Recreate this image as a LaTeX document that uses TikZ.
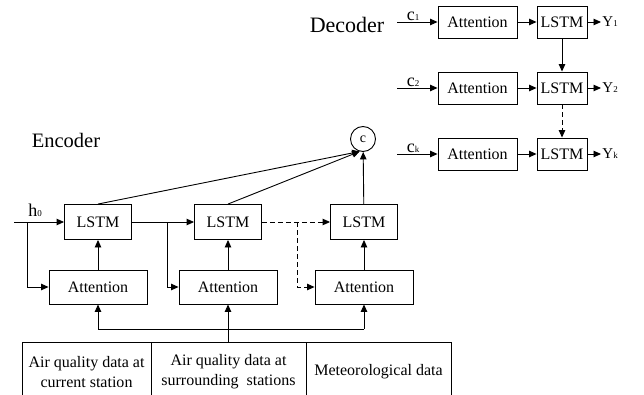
\documentclass[tikz,border=0pt]{standalone}
\usepackage{fontspec}
\setmainfont{Liberation Serif}
\usetikzlibrary{arrows.meta}
\newcommand\mylbl[3]{{\fontsize{#3}{#3}\selectfont #1}{\fontsize{9}{9}\selectfont #2}}
\begin{document}
\begin{tikzpicture}[x=1pt,y=-1pt,
  line width=0.9pt,
  box/.style={draw,inner sep=0pt,font=\fontsize{16}{19}\selectfont},
  lstmbox/.style={box,minimum width=67pt,minimum height=35pt},
  attbox/.style={box,minimum width=98pt,minimum height=34pt},
  dlstm/.style={box,minimum width=50pt,minimum height=32pt},
  datt/.style={box,minimum width=79pt,minimum height=32pt},
  databox/.style={draw,inner sep=0pt,minimum height=60pt,align=center,font=\fontsize{16}{20}\selectfont},
  lab/.style={inner sep=1pt},
  arr/.style={-{Triangle[length=7.5pt,width=6.5pt]}},
  dsh/.style={dash pattern=on 5pt off 3pt},
  ]
\useasboundingbox (0,0) rectangle (644,395);
\clip (0,0) rectangle (644,395);

% ---------- Encoder ----------
\node[font=\fontsize{20.5}{20.5}\selectfont] (enc) at (66,140) {Encoder};

\node[lstmbox] (L1) at (98,222) {LSTM};
\node[lstmbox] (L2) at (228,222) {LSTM};
\node[lstmbox] (L3) at (364,222) {LSTM};
\node[attbox] (A1) at (98,287) {Attention};
\node[attbox] (A2) at (228,287) {Attention};
\node[attbox] (A3) at (364,287) {Attention};
\node[draw,circle,minimum size=25pt,inner sep=0pt,font=\fontsize{14}{14}\selectfont] (c) at (363,139) {c};

\node[databox,minimum width=129pt] (D1) at (86.5,372) {Air quality data at\\current station};
\node[databox,minimum width=155pt] (D2) at (228.5,372) {Air quality data at\\surrounding\ \ stations};
\node[databox,minimum width=145pt] (D3) at (378.5,372) {Meteorological data};

% h0 input
\coordinate (h0s) at (14,222);
\coordinate (b1) at (27,222);
\node[lab] (h0) at (35,210) {\mylbl{h}{0}{18}};
\draw[arr] (h0s) -- (L1);
\draw[arr] (b1) |- (A1.west);

% LSTM chain
\coordinate (b2) at (167,222);
\coordinate (b3) at (297,222);
\draw[arr] (L1) -- (L2);
\draw[arr] (b2) |- (A2.west);
\draw[arr,dsh] (L2) -- (L3);
\draw[arr,dsh] (b3) |- (A3.west);

% attention -> LSTM
\draw[arr] (A1) -- (L1);
\draw[arr] (A2) -- (L2);
\draw[arr] (A3) -- (L3);

% LSTM -> c
\draw[arr] (L1.north) -- (c.255);
\draw[arr] (L2.north) -- (c.255);
\draw[arr] (L3) -- (c);

% data -> attention
\coordinate (j1) at (98,329);
\coordinate (j2) at (228,329);
\coordinate (j3) at (364,329);
\coordinate (d2t) at (228,342);
\draw (j1) -- (j3);
\draw (d2t) -- (j2);
\draw[arr] (j1) -- (A1);
\draw[arr] (j2) -- (A2);
\draw[arr] (j3) -- (A3);

% ---------- Decoder ----------
\node[font=\fontsize{22}{22}\selectfont] (dec) at (347,25) {Decoder};

\node[datt] (DA1) at (477.5,22) {Attention};
\node[datt] (DA2) at (477.5,88) {Attention};
\node[datt] (DA3) at (477.5,154) {Attention};
\node[dlstm] (DL1) at (562,22) {LSTM};
\node[dlstm] (DL2) at (562,88) {LSTM};
\node[dlstm] (DL3) at (562,154) {LSTM};

\coordinate (cs1) at (397,22);
\coordinate (cs2) at (397,88);
\coordinate (cs3) at (397,154);
\draw[arr] (cs1) -- (DA1) node[lab,pos=0.4,above] {\mylbl{c}{1}{18}};
\draw[arr] (cs2) -- (DA2) node[lab,pos=0.4,above] {\mylbl{c}{2}{18}};
\draw[arr] (cs3) -- (DA3) node[lab,pos=0.4,above] {\mylbl{c}{k}{18}};

\draw[arr] (DA1) -- (DL1);
\draw[arr] (DA2) -- (DL2);
\draw[arr] (DA3) -- (DL3);

\node[lab,anchor=west] (Y1) at (601,22) {\mylbl{Y}{1}{15}};
\node[lab,anchor=west] (Y2) at (601,88) {\mylbl{Y}{2}{15}};
\node[lab,anchor=west] (Yk) at (601,154) {\mylbl{Y}{k}{15}};
\draw[arr] (DL1) -- (Y1);
\draw[arr] (DL2) -- (Y2);
\draw[arr] (DL3) -- (Yk);

\draw[arr] (DL1) -- (DL2);
\draw[arr,dsh] (DL2) -- (DL3);
\end{tikzpicture}
\end{document}
